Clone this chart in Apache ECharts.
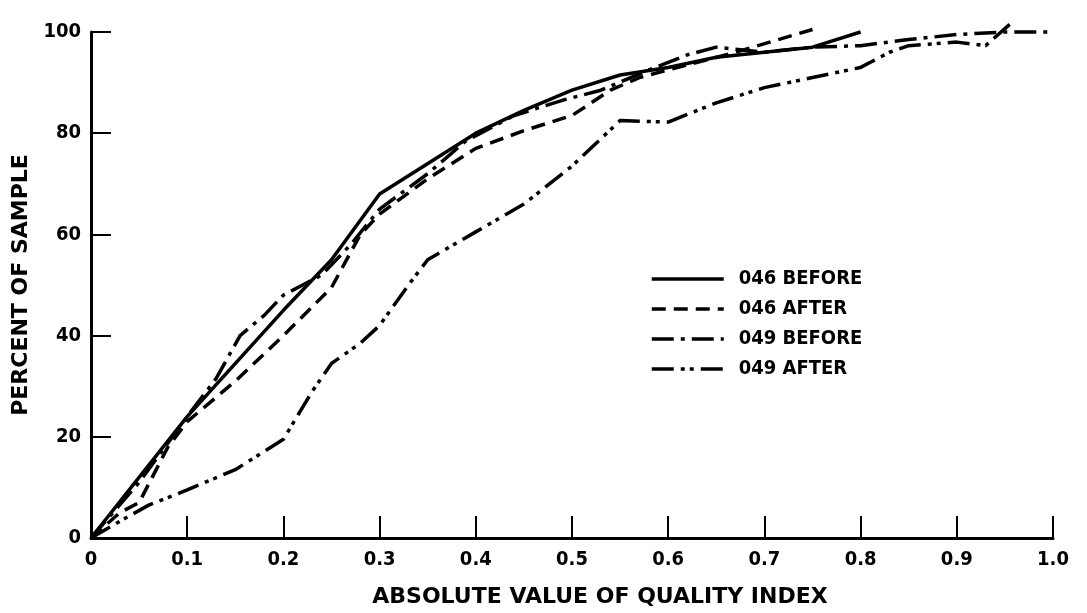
<!DOCTYPE html>
<html>
<head>
<meta charset="utf-8">
<script src="https://cdn.jsdelivr.net/npm/echarts@6/dist/echarts.min.js"></script>
<style>
  html, body { margin: 0; padding: 0; background: #fff; }
  #chart { width: 1087px; height: 613px; }
</style>
</head>
<body>
<div id="chart"></div>
<script>
// curves: [quality index, percent of sample]
const before046 = [[0, 0], [0.1, 24], [0.2, 45], [0.25, 55], [0.3, 68], [0.4, 80], [0.45, 84.5], [0.5, 88.5], [0.55, 91.5], [0.6, 93], [0.65, 95], [0.7, 96], [0.75, 97], [0.8, 100]]
const after046 = [[0, 0], [0.03, 5], [0.05, 7], [0.08, 18], [0.1, 23], [0.15, 31], [0.2, 40], [0.25, 49.5], [0.28, 60], [0.3, 64], [0.35, 71], [0.4, 77], [0.45, 80.5], [0.5, 83.5], [0.52, 86], [0.54, 88.5], [0.57, 91], [0.62, 93.5], [0.67, 96], [0.75, 100.5]]
const before049 = [[0, 0], [0.05, 11], [0.1, 24], [0.13, 31.5], [0.155, 40], [0.18, 44], [0.2, 48], [0.22, 50], [0.24, 52], [0.27, 58], [0.3, 65], [0.35, 72], [0.39, 78.5], [0.44, 83.5], [0.49, 86.5], [0.53, 88.5], [0.58, 92.5], [0.62, 95.5], [0.65, 97], [0.7, 96], [0.75, 97], [0.8, 97.3], [0.85, 98.5], [0.9, 99.5], [0.95, 100], [1.0, 100]]
const after049 = [[0, 0], [0.03, 3.3], [0.06, 6.5], [0.1, 9.5], [0.15, 13.5], [0.2, 19.5], [0.23, 29], [0.25, 34.5], [0.28, 38.5], [0.3, 42], [0.33, 50], [0.35, 55], [0.4, 60.5], [0.45, 66], [0.5, 73.5], [0.55, 82.5], [0.6, 82.2], [0.65, 86], [0.7, 89], [0.75, 91], [0.8, 93], [0.83, 96], [0.85, 97.3], [0.9, 98], [0.93, 97.3], [0.955, 101.5]]

const seriesNames = ['046 BEFORE', '046 AFTER', '049 BEFORE', '049 AFTER']
const xTicks = [0, 0.1, 0.2, 0.3, 0.4, 0.5, 0.6, 0.7, 0.8, 0.9, 1.0]
const yTicks = [0, 20, 40, 60, 80, 100]

const font = 'DejaVu Sans Condensed'
const ink = '#000'

const chart = echarts.init(document.getElementById('chart'))

const makeLine = (name, data, dash) => {
  return {
    name: name,
    type: 'line',
    data: data,
    symbol: 'none',
    clip: false,
    lineStyle: { color: ink, width: 3.5, type: dash },
    itemStyle: { color: ink },
  }
}

const option = {
  backgroundColor: '#fff',
  animation: false,
  grid: { left: 91, right: 34, top: 32, bottom: 73 },
  legend: {
    orient: 'vertical',
    left: 645,
    top: 264,
    itemWidth: 72,
    itemHeight: 22,
    itemGap: 10,
    data: seriesNames,
    itemStyle: { opacity: 0 },
    lineStyle: { width: 3.5 },
    textStyle: { color: ink, fontFamily: font, fontWeight: 'bold', fontSize: 20, padding: [0, 0, 0, 10] },
  },
  xAxis: {
    type: 'value',
    min: xTicks[0],
    max: xTicks[xTicks.length - 1],
    interval: 0.1,
    name: 'ABSOLUTE VALUE OF QUALITY INDEX',
    nameLocation: 'middle',
    nameGap: 48,
    nameTextStyle: { color: ink, fontFamily: 'DejaVu Sans', fontWeight: 'bold', fontSize: 22, padding: [0, 0, 0, 56] },
    axisLine: { lineStyle: { color: ink, width: 3 } },
    axisTick: { inside: true, length: 22, lineStyle: { color: ink, width: 2 } },
    axisLabel: {
      color: ink, fontFamily: font, fontWeight: 'bold', fontSize: 20, margin: 12,
      formatter: v => v === 0 ? '0' : v.toFixed(1),
    },
    splitLine: { show: false },
  },
  yAxis: {
    type: 'value',
    min: yTicks[0],
    max: yTicks[yTicks.length - 1],
    interval: 20,
    name: 'PERCENT OF SAMPLE',
    nameLocation: 'middle',
    nameGap: 53,
    nameTextStyle: { color: ink, fontFamily: 'DejaVu Sans', fontWeight: 'bold', fontSize: 22 },
    axisLine: { show: true, lineStyle: { color: ink, width: 3 } },
    axisTick: { show: true, inside: true, length: 20, lineStyle: { color: ink, width: 2 } },
    axisLabel: { color: ink, fontFamily: font, fontWeight: 'bold', fontSize: 20, margin: 10 },
    splitLine: { show: false },
  },
  series: [
    makeLine(seriesNames[0], before046, 'solid'),
    makeLine(seriesNames[1], after046, [14, 8]),
    makeLine(seriesNames[2], before049, [22, 7, 4, 7]),
    makeLine(seriesNames[3], after049, [22, 7, 4, 5, 4, 7]),
  ],
}

chart.setOption(option)
</script>
</body>
</html>
